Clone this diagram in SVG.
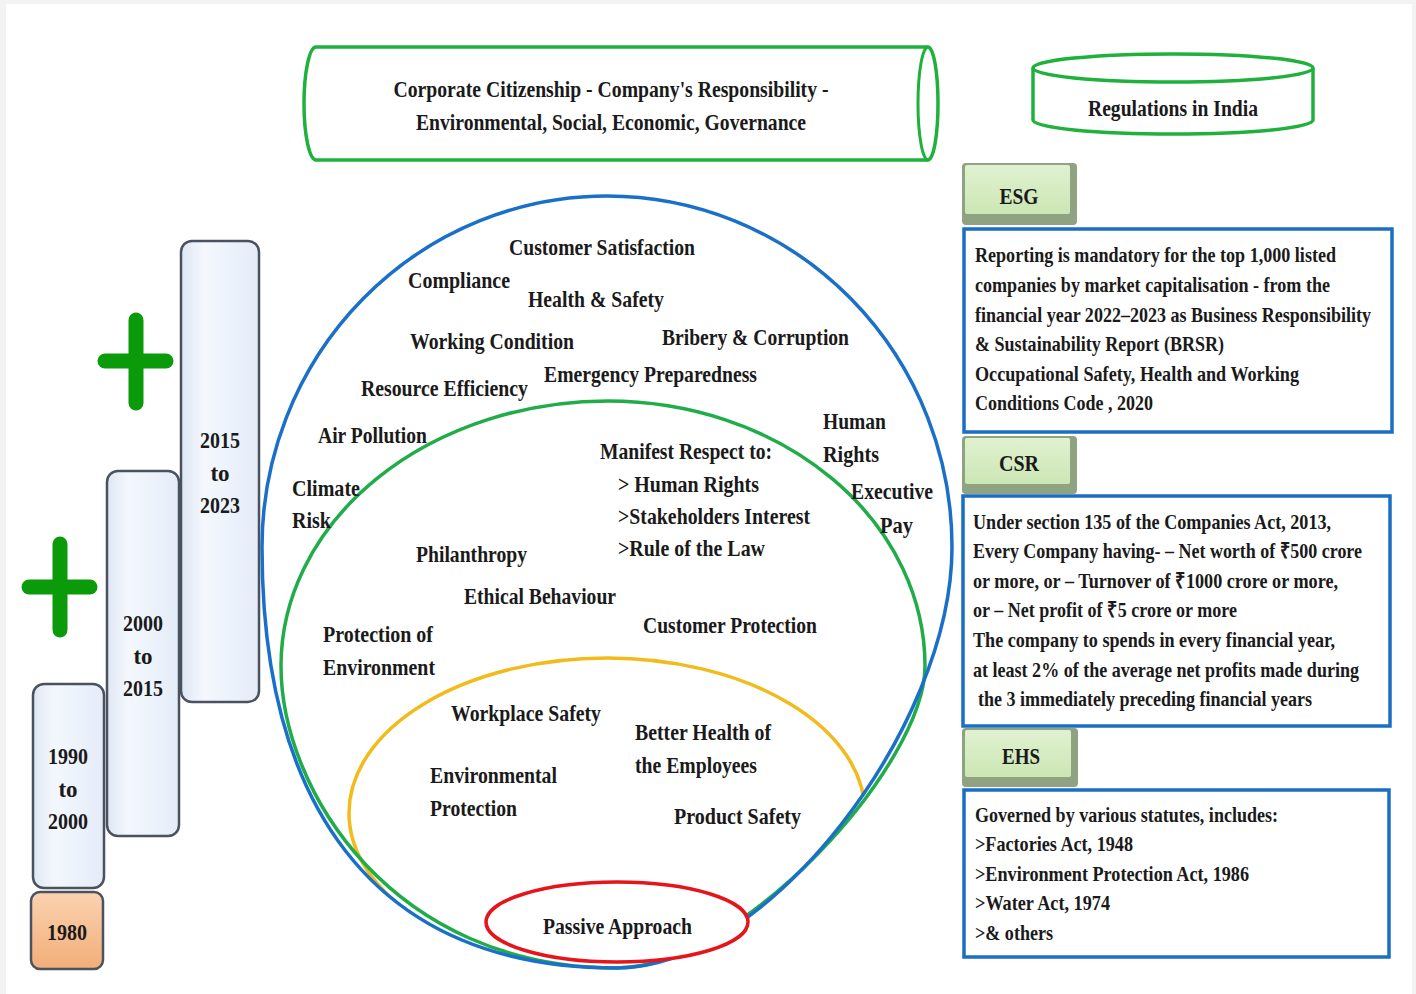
<svg xmlns="http://www.w3.org/2000/svg" width="1416" height="994" viewBox="0 0 1416 994">
<defs>
<style>
text{font-family:"Liberation Serif","Times New Roman",serif;font-weight:bold;fill:#1a1a1a;font-size:23px}
.t{font-size:22px}
.c{text-anchor:middle}
.bar{stroke:#4a5260;stroke-width:2.5;fill:url(#barg)}
.blue{fill:#fff;stroke:#1a6fc4;stroke-width:3.5}
.cyl{fill:#fff;stroke:#1fb13c;stroke-width:3.5}
.plus{stroke:#0a9a0a;stroke-width:15;stroke-linecap:round}
</style>
<linearGradient id="barg" x1="0" y1="0" x2="1" y2="0">
<stop offset="0" stop-color="#dfe7f3"/><stop offset="0.3" stop-color="#f4f8fe"/><stop offset="1" stop-color="#e4ecf8"/>
</linearGradient>
<linearGradient id="orng" x1="0" y1="0" x2="0" y2="1">
<stop offset="0" stop-color="#fbd3b0"/><stop offset="1" stop-color="#f2ad78"/>
</linearGradient>
<linearGradient id="tabg" x1="0" y1="0" x2="0" y2="1">
<stop offset="0" stop-color="#e0f1d0"/><stop offset="1" stop-color="#cce6b4"/>
</linearGradient>
<clipPath id="inBlue">
<path d="M262,547 A345,351 0 0 1 952,547 C952,727 767,968 617,968 C367,968 262,797 262,547 Z"/>
</clipPath>
</defs>
<rect width="1416" height="994" fill="#f3f3f3"/>
<rect x="6" y="4" width="1406" height="990" fill="#ffffff"/>

<g id="title">
<path class="cyl" d="M316,47 L928,47 A10,56.5 0 0 1 928,160 L316,160 A12,56.5 0 0 1 316,47 Z"/>
<path d="M928,47 A10,56.5 0 0 0 928,160" fill="none" stroke="#1fb13c" stroke-width="3"/>
<text class="c" x="611" y="97" font-size="24" textLength="435" lengthAdjust="spacingAndGlyphs">Corporate Citizenship - Company's Responsibility -</text>
<text class="c" x="611" y="130" font-size="24" textLength="390" lengthAdjust="spacingAndGlyphs">Environmental, Social, Economic, Governance</text>
</g>

<g id="regulations">
<path class="cyl" d="M1033,68 L1033,120 A140,14 0 0 0 1313,120 L1313,68"/>
<ellipse cx="1173" cy="68" rx="140" ry="14" class="cyl"/>
<text class="c" x="1173" y="116" font-size="24" textLength="170" lengthAdjust="spacingAndGlyphs">Regulations in India</text>
</g>

<g id="esg-tab">
<rect x="962" y="163" width="115" height="62" rx="4" fill="#8fa383"/>
<rect x="965" y="165" width="105" height="49" rx="2" fill="url(#tabg)"/>
<text class="c" x="1019" y="204" font-size="24" textLength="39" lengthAdjust="spacingAndGlyphs">ESG</text>
</g>
<g id="esg-box">
<rect class="blue" x="964" y="229" width="428" height="203"/>
<text class="t" x="975" y="262" textLength="361" lengthAdjust="spacingAndGlyphs">Reporting is mandatory for the top 1,000 listed</text>
<text class="t" x="975" y="292" textLength="355" lengthAdjust="spacingAndGlyphs">companies by market capitalisation - from the</text>
<text class="t" x="975" y="322" textLength="396" lengthAdjust="spacingAndGlyphs">financial year 2022–2023 as Business Responsibility</text>
<text class="t" x="975" y="351" textLength="249" lengthAdjust="spacingAndGlyphs">&amp; Sustainability Report (BRSR)</text>
<text class="t" x="975" y="381" textLength="324" lengthAdjust="spacingAndGlyphs">Occupational Safety, Health and Working</text>
<text class="t" x="975" y="410" textLength="178" lengthAdjust="spacingAndGlyphs">Conditions Code , 2020</text>
</g>

<g id="csr-tab">
<rect x="962" y="436" width="115" height="58" rx="4" fill="#8fa383"/>
<rect x="965" y="438" width="105" height="46" rx="2" fill="url(#tabg)"/>
<text class="c" x="1019" y="471" font-size="24" textLength="40" lengthAdjust="spacingAndGlyphs">CSR</text>
</g>
<g id="csr-box">
<rect class="blue" x="963" y="496" width="427" height="230"/>
<text class="t" x="973" y="529" textLength="358" lengthAdjust="spacingAndGlyphs">Under section 135 of the Companies Act, 2013,</text>
<text class="t" x="973" y="558" textLength="389" lengthAdjust="spacingAndGlyphs">Every Company having- – Net worth of ₹500 crore</text>
<text class="t" x="973" y="588" textLength="365" lengthAdjust="spacingAndGlyphs">or more, or – Turnover of ₹1000 crore or more,</text>
<text class="t" x="973" y="617" textLength="264" lengthAdjust="spacingAndGlyphs">or – Net profit of ₹5 crore or more</text>
<text class="t" x="973" y="647" textLength="362" lengthAdjust="spacingAndGlyphs">The company to spends in every financial year,</text>
<text class="t" x="973" y="677" textLength="386" lengthAdjust="spacingAndGlyphs">at least 2% of the average net profits made during</text>
<text class="t" x="978" y="706" textLength="334" lengthAdjust="spacingAndGlyphs">the 3 immediately preceding financial years</text>
</g>

<g id="ehs-tab">
<rect x="962" y="728" width="116" height="59" rx="4" fill="#8fa383"/>
<rect x="965" y="730" width="106" height="47" rx="2" fill="url(#tabg)"/>
<text class="c" x="1021" y="764" font-size="24" textLength="38" lengthAdjust="spacingAndGlyphs">EHS</text>
</g>
<g id="ehs-box">
<rect class="blue" x="964" y="790" width="425" height="167"/>
<text class="t" x="975" y="822" textLength="303" lengthAdjust="spacingAndGlyphs">Governed by various statutes, includes:</text>
<text class="t" x="975" y="851" textLength="158" lengthAdjust="spacingAndGlyphs">&gt;Factories Act, 1948</text>
<text class="t" x="975" y="881" textLength="274" lengthAdjust="spacingAndGlyphs">&gt;Environment Protection Act, 1986</text>
<text class="t" x="975" y="910" textLength="135" lengthAdjust="spacingAndGlyphs">&gt;Water Act, 1974</text>
<text class="t" x="975" y="940" textLength="78" lengthAdjust="spacingAndGlyphs">&gt;&amp; others</text>
</g>

<g id="bar-2015">
<rect class="bar" x="181" y="241" width="78" height="461" rx="11"/>
<text class="c" x="220" y="448" textLength="40" lengthAdjust="spacingAndGlyphs">2015</text>
<text class="c" x="220" y="481">to</text>
<text class="c" x="220" y="513" textLength="40" lengthAdjust="spacingAndGlyphs">2023</text>
</g>
<g id="bar-2000">
<rect class="bar" x="107" y="471" width="72" height="365" rx="11"/>
<text class="c" x="143" y="631" textLength="40" lengthAdjust="spacingAndGlyphs">2000</text>
<text class="c" x="143" y="664">to</text>
<text class="c" x="143" y="696" textLength="40" lengthAdjust="spacingAndGlyphs">2015</text>
</g>
<g id="bar-1990">
<rect class="bar" x="33" y="684" width="71" height="204" rx="11"/>
<text class="c" x="68" y="764" textLength="40" lengthAdjust="spacingAndGlyphs">1990</text>
<text class="c" x="68" y="797">to</text>
<text class="c" x="68" y="829" textLength="40" lengthAdjust="spacingAndGlyphs">2000</text>
</g>
<g id="box-1980">
<rect x="31" y="892" width="72" height="77" rx="9" fill="url(#orng)" stroke="#4a5260" stroke-width="2.5"/>
<text class="c" x="67" y="940" textLength="40" lengthAdjust="spacingAndGlyphs">1980</text>
</g>

<g id="plus-1">
<line class="plus" x1="136" y1="320" x2="136" y2="403"/>
<line class="plus" x1="105" y1="361" x2="166" y2="361"/>
</g>
<g id="plus-2">
<line class="plus" x1="60" y1="544" x2="60" y2="630"/>
<line class="plus" x1="29" y1="587" x2="90" y2="587"/>
</g>

<g id="rings" fill="none">
<ellipse cx="607" cy="813" rx="258" ry="155" stroke="#f2bb1c" stroke-width="3.5" clip-path="url(#inBlue)"/>
<path d="M281,666 A327,265 0 0 1 608,401 A317,265 0 0 1 925,666 C925,766 740,968 617,968 C392,968 281,790 281,666 Z" stroke="#21ac4a" stroke-width="3.5"/>
<path d="M262,547 A345,351 0 0 1 952,547 C952,727 767,968 617,968 C367,968 262,797 262,547 Z" stroke="#1a70c8" stroke-width="3.5"/>
<ellipse cx="617" cy="922" rx="131" ry="40" stroke="#e8141c" stroke-width="3.5" fill="#fff"/>
</g>

<g id="outer-labels">
<text x="509" y="255" textLength="186" lengthAdjust="spacingAndGlyphs">Customer Satisfaction</text>
<text x="408" y="288" textLength="102" lengthAdjust="spacingAndGlyphs">Compliance</text>
<text x="528" y="307" textLength="136" lengthAdjust="spacingAndGlyphs">Health &amp; Safety</text>
<text x="410" y="349" textLength="164" lengthAdjust="spacingAndGlyphs">Working Condition</text>
<text x="662" y="345" textLength="187" lengthAdjust="spacingAndGlyphs">Bribery &amp; Corruption</text>
<text x="544" y="382" textLength="213" lengthAdjust="spacingAndGlyphs">Emergency Preparedness</text>
<text x="361" y="396" textLength="167" lengthAdjust="spacingAndGlyphs">Resource Efficiency</text>
<text x="318" y="443" textLength="109" lengthAdjust="spacingAndGlyphs">Air Pollution</text>
<text x="823" y="429" textLength="63" lengthAdjust="spacingAndGlyphs">Human</text>
<text x="823" y="462" textLength="56" lengthAdjust="spacingAndGlyphs">Rights</text>
<text x="292" y="496" textLength="68" lengthAdjust="spacingAndGlyphs">Climate</text>
<text x="292" y="528" textLength="39" lengthAdjust="spacingAndGlyphs">Risk</text>
<text x="851" y="499" textLength="82" lengthAdjust="spacingAndGlyphs">Executive</text>
<text x="880" y="533" textLength="33" lengthAdjust="spacingAndGlyphs">Pay</text>
</g>

<g id="middle-labels">
<text x="600" y="459" textLength="172" lengthAdjust="spacingAndGlyphs">Manifest Respect to:</text>
<text x="618" y="492" textLength="141" lengthAdjust="spacingAndGlyphs">&gt; Human Rights</text>
<text x="618" y="524" textLength="192" lengthAdjust="spacingAndGlyphs">&gt;Stakeholders Interest</text>
<text x="618" y="556" textLength="147" lengthAdjust="spacingAndGlyphs">&gt;Rule of the Law</text>
<text x="416" y="562" textLength="111" lengthAdjust="spacingAndGlyphs">Philanthropy</text>
<text x="464" y="604" textLength="152" lengthAdjust="spacingAndGlyphs">Ethical Behaviour</text>
<text x="643" y="633" textLength="174" lengthAdjust="spacingAndGlyphs">Customer Protection</text>
<text x="323" y="642" textLength="110" lengthAdjust="spacingAndGlyphs">Protection of</text>
<text x="323" y="675" textLength="112" lengthAdjust="spacingAndGlyphs">Environment</text>
</g>

<g id="inner-labels">
<text x="451" y="721" textLength="150" lengthAdjust="spacingAndGlyphs">Workplace Safety</text>
<text x="635" y="740" textLength="136" lengthAdjust="spacingAndGlyphs">Better Health of</text>
<text x="635" y="773" textLength="122" lengthAdjust="spacingAndGlyphs">the Employees</text>
<text x="430" y="783" textLength="127" lengthAdjust="spacingAndGlyphs">Environmental</text>
<text x="430" y="816" textLength="87" lengthAdjust="spacingAndGlyphs">Protection</text>
<text x="674" y="824" textLength="127" lengthAdjust="spacingAndGlyphs">Product Safety</text>
</g>

<g id="passive">
<text x="543" y="934" textLength="149" lengthAdjust="spacingAndGlyphs">Passive Approach</text>
</g>
</svg>
